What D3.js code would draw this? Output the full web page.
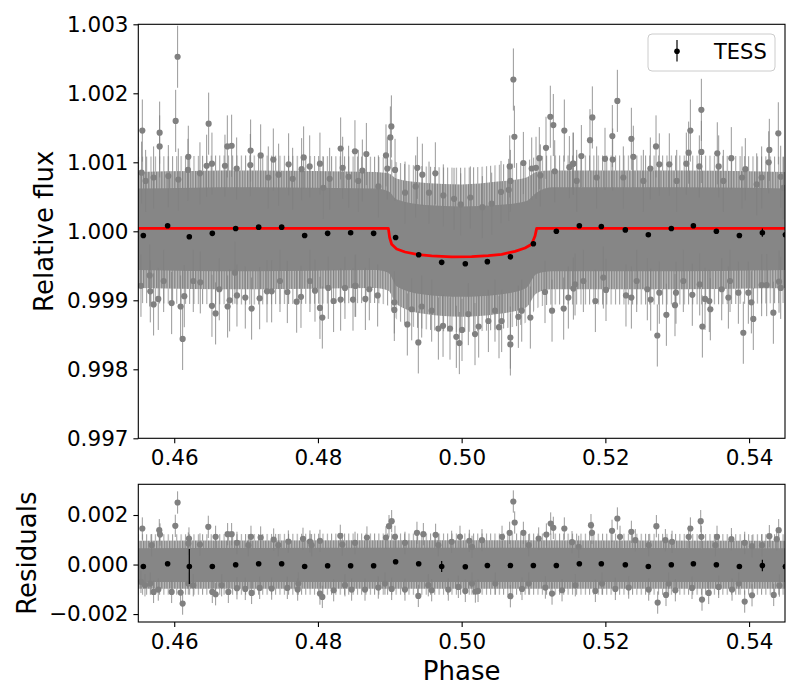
<!DOCTYPE html>
<html>
<head>
<meta charset="utf-8">
<script src="https://cdn.jsdelivr.net/npm/d3@7"></script>
<style>
body { margin: 0; background: #fff; }
</style>
</head>
<body>
<svg id="chart" width="800" height="700"></svg>
<script>
// binned TESS points (black)
var binPhase = [0.45570, 0.45908, 0.46210, 0.46530, 0.46855, 0.47175, 0.47495, 0.47815, 0.48135, 0.48455,
                0.48775, 0.49081, 0.49402, 0.49722, 0.50051, 0.50358, 0.50678, 0.50998, 0.51318, 0.51638,
                0.51944, 0.52278, 0.52598, 0.52918, 0.53225, 0.53545, 0.53865, 0.54185, 0.54505]
var binFlux = [0.99994, 1.00008, 0.99992, 0.99997, 1.00004, 1.00006, 1.00006, 0.99994, 0.99997, 0.99998,
               0.99997, 0.99991, 0.99966, 0.99955, 0.99953, 0.99956, 0.99963, 0.99982, 1.00000, 1.00008,
               1.00007, 1.00002, 0.99995, 1.00004, 1.00008, 1.00000, 0.99994, 0.99998, 0.99995]
var binFluxErr = [0.00003, 0.00003, 0.00003, 0.00003, 0.00003, 0.00003, 0.00003, 0.00003, 0.00003, 0.00003,
                  0.00003, 0.00003, 0.00003, 0.00003, 0.00003, 0.00003, 0.00003, 0.00003, 0.00003, 0.00003,
                  0.00003, 0.00003, 0.00003, 0.00003, 0.00003, 0.00003, 0.00003, 0.00006, 0.00003]
var binResid = [-0.00008, 0.00003, -0.00008, -0.00008, -0.00001, 0.00003, 0.00003, -0.00008, -0.00005, -0.00005,
                -0.00005, 0.00011, 0.00003, -0.00008, -0.00009, -0.00004, -0.00004, -0.00004, -0.00004, 0.00003,
                0.00003, -0.00001, -0.00008, -0.00001, 0.00003, -0.00001, -0.00008, -0.00004, -0.00008]
var binResidErr = [0.00003, 0.00003, 0.00071, 0.00003, 0.00003, 0.00003, 0.00003, 0.00003, 0.00003, 0.00003,
                   0.00003, 0.00003, 0.00003, 0.00022, 0.00003, 0.00003, 0.00003, 0.00003, 0.00003, 0.00003,
                   0.00003, 0.00003, 0.00003, 0.00003, 0.00003, 0.00003, 0.00003, 0.00023, 0.00003]

// transit model (red)
var modelPhase = [0.455, 0.4898, 0.48998, 0.49026, 0.49096, 0.49212, 0.49397, 0.49583, 0.49861, 0.5014,
                  0.50372, 0.50557, 0.50743, 0.50882, 0.50975, 0.51021, 0.51044, 0.545]
var modelFlux = [1.000043, 1.000043, 0.999908, 0.999812, 0.999744, 0.9997, 0.999662, 0.999643, 0.999628, 0.999633,
                 0.999647, 0.999667, 0.99971, 0.999758, 0.999812, 0.999932, 1.000043, 1.000043]

// unbinned cloud: solid core, dense "grass" of error bars, sparse outer grass (edges)
var bandPhase = [0.455, 0.470, 0.4880, 0.4898, 0.4910, 0.4950, 0.5000, 0.5050, 0.5090, 0.5104, 0.5125, 0.530, 0.545]
var bandHi = [1.00062, 1.00064, 1.00062, 1.00058, 1.00046, 1.00038, 1.00036, 1.00038, 1.00044, 1.00056, 1.00064, 1.00064, 1.00062]
var bandLo = [0.99944, 0.99942, 0.99944, 0.99940, 0.99920, 0.99908, 0.99905, 0.99908, 0.99918, 0.99938, 0.99942, 0.99942, 0.99944]
var midHi = [1.00086, 1.00088, 1.00086, 1.00084, 1.00076, 1.00070, 1.00068, 1.00072, 1.00078, 1.00086, 1.00088, 1.00088, 1.00086]
var midLo = [0.99918, 0.99916, 0.99918, 0.99914, 0.99894, 0.99880, 0.99876, 0.99880, 0.99890, 0.99910, 0.99916, 0.99916, 0.99918]
var outerHi = [1.00108, 1.00110, 1.00108, 1.00106, 1.00100, 1.00094, 1.00092, 1.00096, 1.00102, 1.00108, 1.00110, 1.00110, 1.00108]
var outerLo = [0.99896, 0.99894, 0.99896, 0.99892, 0.99872, 0.99858, 0.99854, 0.99858, 0.99868, 0.99888, 0.99894, 0.99894, 0.99896]
var resBandPhase = [0.455, 0.500, 0.545]
var resBandHi = [0.00066, 0.00068, 0.00066]
var resBandLo = [-0.00070, -0.00070, -0.00070]
var resMidHi = [0.00096, 0.00098, 0.00096]
var resMidLo = [-0.00098, -0.00098, -0.00098]
var resOuterHi = [0.00122, 0.00125, 0.00122]
var resOuterLo = [-0.00122, -0.00122, -0.00122]

// scattered unbinned points [phase, flux]
var grayErr = 0.00045
var fluxPoints = [
  [0.45556,1.00146],[0.45546,1.00085],[0.45797,1.00143],[0.45797,1.00123],[0.46020,1.00160],[0.46047,1.00253],
  [0.46196,1.00108],[0.46191,1.00089],[0.46479,1.00156],[0.46525,1.00098],[0.46739,1.00123],[0.46799,1.00124],
  [0.46869,1.00091],[0.47063,1.00117],[0.47203,1.00110],[0.47379,1.00104],[0.47453,1.00082],[0.47592,1.00097],
  [0.47648,1.00076],[0.47801,1.00107],[0.47885,1.00094],[0.48028,1.00098],[0.48163,1.00076],[0.48316,1.00120],
  [0.48344,1.00092],[0.48427,1.00079],[0.45602,1.00073],[0.45713,1.00078],[0.45918,1.00080],[0.46358,1.00084],
  [0.46706,1.00095],[0.47059,1.00096],[0.47309,1.00078],[0.47773,1.00090],[0.48075,1.00063],[0.48515,1.00116],
  [0.46057,1.00075],[0.46451,1.00095],
  [0.45537,0.99921],[0.45658,0.99936],[0.45667,0.99913],[0.45713,0.99894],[0.45778,0.99902],[0.45964,0.99896],
  [0.46089,0.99891],[0.46117,0.99844],[0.46140,0.99906],[0.46265,0.99928],[0.46363,0.99926],[0.46525,0.99892],
  [0.46576,0.99881],[0.46627,0.99916],[0.46743,0.99891],[0.46771,0.99900],[0.46873,0.99907],[0.46989,0.99904],
  [0.47077,0.99888],[0.47189,0.99903],[0.47291,0.99913],[0.47356,0.99913],[0.47574,0.99912],[0.47704,0.99898],
  [0.47764,0.99905],[0.47889,0.99928],[0.48028,0.99889],[0.48061,0.99875],[0.48218,0.99899],[0.48316,0.99901],
  [0.48488,0.99901],[0.48525,0.99921],[0.45853,0.99928],[0.46845,0.99940],[0.47472,0.99928],[0.47959,0.99914],
  [0.48144,0.99918],[0.48376,0.99918],
  [0.48674,1.00112],[0.48618,1.00088],[0.48947,1.00110],[0.48966,1.00091],[0.49008,1.00136],[0.49022,1.00152],
  [0.49073,1.00089],[0.49383,1.00092],[0.49453,1.00082],[0.49634,1.00084],[0.49360,1.00065],[0.49546,1.00056],
  [0.49745,1.00052],[0.49894,1.00047],[0.50121,1.00049],[0.49987,1.00039],[0.50288,1.00035],[0.50418,1.00040],
  [0.50548,1.00057],[0.50655,1.00060],[0.50669,1.00094],[0.50678,1.00073],[0.50720,1.00220],[0.50734,1.00137],
  [0.50859,1.00099],[0.50975,1.00091],[0.51035,1.00092],[0.51081,1.00106],[0.51095,1.00081],[0.51174,1.00121],
  [0.51234,1.00166],[0.51276,1.00154],[0.51295,1.00087],[0.51429,1.00146],[0.51499,1.00093],[0.51555,1.00098],
  [0.48562,1.00073],[0.48841,1.00065],[0.49212,1.00056],
  [0.48516,0.99921],[0.48660,0.99902],[0.48715,0.99916],[0.48831,0.99907],[0.49063,0.99886],[0.49063,0.99897],
  [0.49244,0.99865],[0.49305,0.99887],[0.49397,0.99839],[0.49444,0.99891],[0.49676,0.99859],[0.49741,0.99863],
  [0.49838,0.99859],[0.49926,0.99847],[0.49968,0.99838],[0.50005,0.99857],[0.50186,0.99851],[0.50237,0.99862],
  [0.50372,0.99870],[0.50520,0.99861],[0.50557,0.99870],[0.50678,0.99846],[0.50678,0.99836],[0.50789,0.99876],
  [0.50836,0.99885],[0.50956,0.99875],[0.51160,0.99912],[0.51258,0.99885],[0.51420,0.99888],[0.51485,0.99904],
  [0.51555,0.99917],[0.49583,0.99885],[0.50093,0.99880],[0.50464,0.99885],
  [0.51550,1.00098],[0.51666,1.00109],[0.51786,1.00132],[0.51819,1.00165],[0.51995,1.00105],[0.52097,1.00138],
  [0.52102,1.00104],[0.52167,1.00189],[0.52362,1.00134],[0.52389,1.00108],[0.52626,1.00091],[0.52705,1.00123],
  [0.52751,1.00097],[0.52890,1.00097],[0.53127,1.00098],[0.53159,1.00114],[0.53183,1.00146],[0.53308,1.00094],
  [0.53336,1.00176],[0.53336,1.00115],[0.53558,1.00113],[0.53577,1.00094],[0.53753,1.00106],[0.53902,1.00078],
  [0.53948,1.00090],[0.54175,1.00078],[0.54273,1.00100],[0.54282,1.00118],[0.54407,1.00142],[0.54440,1.00079],
  [0.51601,1.00073],[0.51879,1.00078],[0.52250,1.00078],[0.52529,1.00073],[0.52993,1.00073],[0.53642,1.00073],
  [0.54106,1.00068],[0.54477,1.00063],
  [0.51578,0.99923],[0.51694,0.99928],[0.51861,0.99899],[0.52009,0.99915],[0.52287,0.99907],[0.52362,0.99904],
  [0.52584,0.99916],[0.52631,0.99901],[0.52723,0.99849],[0.52751,0.99911],[0.52849,0.99879],[0.52969,0.99893],
  [0.52983,0.99911],[0.53210,0.99908],[0.53313,0.99923],[0.53350,0.99862],[0.53387,0.99902],[0.53447,0.99899],
  [0.53461,0.99887],[0.53619,0.99916],[0.53712,0.99904],[0.53851,0.99911],[0.53920,0.99853],[0.53990,0.99911],
  [0.54032,0.99897],[0.54059,0.99873],[0.54175,0.99922],[0.54245,0.99922],[0.54338,0.99882],[0.54417,0.99927],
  [0.54440,0.99918],[0.51972,0.99933],[0.52436,0.99928],[0.53085,0.99928],[0.53735,0.99928]
]

// scattered residuals [phase, residual]
var residPoints = [
  [0.45556,0.001455],[0.45792,0.001387],[0.45802,0.001212],[0.46015,0.001562],[0.46047,0.002505],[0.46196,0.000848],
  [0.46205,0.001051],[0.46474,0.001522],[0.46576,0.001118],[0.46743,0.001226],[0.46799,0.001226],[0.46873,0.000875],
  [0.47068,0.001118],[0.47203,0.001091],[0.47384,0.001010],[0.47588,0.000929],[0.47792,0.001037],[0.47889,0.000929],
  [0.48028,0.000956],[0.48311,0.001158],[0.48339,0.000808],[0.48682,0.001091],[0.48947,0.001091],[0.48989,0.001549],
  [0.49026,0.001751],[0.49072,0.001118],[0.49378,0.001279],[0.49467,0.001226],[0.49638,0.001199],[0.49861,0.000916],
  [0.49977,0.001118],[0.45686,0.000781],[0.46358,0.000808],[0.47031,0.000781],[0.47449,0.000781],[0.47912,0.000781],
  [0.48516,0.000875],[0.49211,0.000875],[0.49675,0.000781],
  [0.45537,-0.000700],[0.45667,-0.000768],[0.45713,-0.001104],[0.45778,-0.001010],[0.45964,-0.001104],[0.46089,-0.001131],
  [0.46117,-0.001576],[0.46265,-0.000835],[0.46530,-0.001104],[0.46576,-0.001199],[0.46753,-0.001104],[0.46873,-0.000956],
  [0.46989,-0.000983],[0.47077,-0.001145],[0.47189,-0.000943],[0.47356,-0.000970],[0.47574,-0.000943],[0.47718,-0.001010],
  [0.48028,-0.001172],[0.48061,-0.001307],[0.48219,-0.001037],[0.48469,-0.001010],[0.48655,-0.001010],[0.48840,-0.000929],
  [0.49026,-0.000983],[0.49211,-0.001010],[0.49397,-0.001266],[0.49583,-0.001037],[0.49814,-0.001010],[0.49954,-0.000902],
  [0.45593,-0.000835],[0.46196,-0.000768],[0.46660,-0.000835],[0.47727,-0.000768],[0.48376,-0.000835],[0.48933,-0.000768],
  [0.49536,-0.000835],
  [0.50107,0.000956],[0.50283,0.000983],[0.50562,0.001118],[0.50668,0.001279],[0.50719,0.002545],[0.50738,0.001697],
  [0.50859,0.001279],[0.51072,0.001051],[0.51179,0.001212],[0.51239,0.001657],[0.51276,0.001481],[0.51429,0.001455],
  [0.51536,0.000902],[0.51800,0.001589],[0.51814,0.001279],[0.52093,0.001360],[0.52167,0.001859],[0.52204,0.001118],
  [0.52362,0.001320],[0.52417,0.000983],[0.52710,0.001549],[0.52835,0.000983],[0.52928,0.000916],[0.53160,0.001118],
  [0.53183,0.001455],[0.53327,0.001751],[0.53336,0.001118],[0.53554,0.001118],[0.53754,0.001024],[0.53939,0.000875],
  [0.54180,0.000781],[0.54282,0.001145],[0.54385,0.001024],[0.54412,0.001387],[0.50144,0.000714],[0.50933,0.000781],
  [0.51629,0.000714],[0.52603,0.000781],[0.53531,0.000781],[0.54041,0.000741],
  [0.50051,-0.001064],[0.50191,-0.001091],[0.50228,-0.001064],[0.50469,-0.000768],[0.50678,-0.001279],[0.50840,-0.000983],
  [0.51165,-0.000929],[0.51258,-0.001172],[0.51397,-0.001037],[0.51582,-0.000835],[0.51861,-0.001064],[0.52139,-0.000983],
  [0.52325,-0.000929],[0.52603,-0.001010],[0.52728,-0.001535],[0.52844,-0.001226],[0.52974,-0.001037],[0.53206,-0.000943],
  [0.53345,-0.001414],[0.53438,-0.001145],[0.53577,-0.000902],[0.53763,-0.001010],[0.53939,-0.001495],[0.54041,-0.001239],
  [0.54343,-0.001226],[0.54422,-0.000848],[0.50144,-0.000768],[0.50933,-0.000768],[0.51954,-0.000768],[0.52881,-0.000768],
  [0.53856,-0.000768]
]

var phaseTicks = [0.46, 0.48, 0.50, 0.52, 0.54]
var fluxTicks = [0.997, 0.998, 0.999, 1.000, 1.001, 1.002, 1.003]
var residTicks = [-0.002, 0.000, 0.002]

var FONT = '"DejaVu Sans", "Liberation Sans", sans-serif'
var svg = d3.select('#chart')

var left = 138.3, right = 785
var top1 = 24.3, bottom1 = 438.3
var top2 = 484.3, bottom2 = 622

var xScale = d3.scaleLinear().domain([0.455, 0.545]).range([left, right])
var yFlux = d3.scaleLinear().domain([0.997, 1.003]).range([bottom1, top1])
var yResid = d3.scaleLinear().domain([-0.00232, 0.00324]).range([bottom2, top2])

var defs = svg.append('defs')
defs.append('clipPath').attr('id', 'clipTop')
  .append('rect').attr('x', left).attr('y', top1).attr('width', right - left).attr('height', bottom1 - top1)
defs.append('clipPath').attr('id', 'clipBot')
  .append('rect').attr('x', left).attr('y', top2).attr('width', right - left).attr('height', bottom2 - top2)

// thin vertical strokes, stand-in for the overlapping error bars
let grass = defs.append('pattern').attr('id', 'grass')
  .attr('patternUnits', 'userSpaceOnUse').attr('width', 2.6).attr('height', 10)
grass.append('rect').attr('width', 2.6).attr('height', 10).attr('fill', '#bdbdbd')
grass.append('rect').attr('width', 1.3).attr('height', 10).attr('fill', '#858585')
let sparse = defs.append('pattern').attr('id', 'sparse')
  .attr('patternUnits', 'userSpaceOnUse').attr('width', 4.3).attr('height', 10)
sparse.append('rect').attr('width', 1).attr('height', 10).attr('fill', '#9a9a9a')

function band(yScale, ph, lo, hi) {
  return d3.area().curve(d3.curveMonotoneX)
    .x(function(d, i) { return xScale(ph[i]) })
    .y0(function(d, i) { return yScale(lo[i]) })
    .y1(function(d, i) { return yScale(hi[i]) })(ph)
}

function drawPanel(clipId, yScale, ph, bands, points) {
  let g = svg.append('g').attr('clip-path', 'url(#' + clipId + ')')

  // sparse outer grass, dense grass, then solid core
  g.append('path').attr('fill', 'url(#sparse)').attr('d', band(yScale, ph, bands[0], bands[1]))
  g.append('path').attr('fill', 'url(#grass)').attr('d', band(yScale, ph, bands[2], bands[3]))
  g.append('path').attr('fill', '#868686').attr('d', band(yScale, ph, bands[4], bands[5]))

  // scattered points with error bars
  g.selectAll('.gerr').data(points).enter().append('line')
    .attr('x1', d => xScale(d[0])).attr('x2', d => xScale(d[0]))
    .attr('y1', d => yScale(d[1] - grayErr)).attr('y2', d => yScale(d[1] + grayErr))
    .attr('stroke', '#808080').attr('stroke-opacity', 0.8).attr('stroke-width', 1)
  g.selectAll('.gdot').data(points).enter().append('circle')
    .attr('cx', d => xScale(d[0])).attr('cy', d => yScale(d[1]))
    .attr('r', 3.1).attr('fill', '#808080')

  return g
}

let gTop = drawPanel('clipTop', yFlux, bandPhase,
  [outerLo, outerHi, midLo, midHi, bandLo, bandHi], fluxPoints)

// model
gTop.append('path')
  .datum(modelPhase.map(function(p, i) { return [p, modelFlux[i]] }))
  .attr('fill', 'none').attr('stroke', 'red').attr('stroke-width', 2.8)
  .attr('stroke-linejoin', 'round')
  .attr('d', d3.line().x(d => xScale(d[0])).y(d => yFlux(d[1])))

let gBot = drawPanel('clipBot', yResid, resBandPhase,
  [resOuterLo, resOuterHi, resMidLo, resMidHi, resBandLo, resBandHi], residPoints)

function drawBins(g, yScale, vals, errs) {
  g.selectAll('.berr').data(binPhase).enter().append('line')
    .attr('x1', d => xScale(d)).attr('x2', d => xScale(d))
    .attr('y1', (d, i) => yScale(vals[i] - errs[i])).attr('y2', (d, i) => yScale(vals[i] + errs[i]))
    .attr('stroke', 'black').attr('stroke-width', 1.2)
  g.selectAll('.bdot').data(binPhase).enter().append('circle')
    .attr('cx', d => xScale(d)).attr('cy', (d, i) => yScale(vals[i]))
    .attr('r', 2.8).attr('fill', 'black')
}
drawBins(gTop, yFlux, binFlux, binFluxErr)
drawBins(gBot, yResid, binResid, binResidErr)

// axes
function styleAxis(g) {
  g.select('.domain').remove()
  g.selectAll('.tick line').attr('stroke', 'black').attr('stroke-width', 1.1)
  g.selectAll('.tick text').attr('fill', 'black').attr('font-size', '21.5px').attr('font-family', FONT)
}
var fmt3 = function(d) { return d3.format('.3f')(d).replace('-', '\u2212') }
var fmt2 = d3.format('.2f')

svg.append('g').attr('transform', 'translate(' + left + ',0)')
  .call(d3.axisLeft(yFlux).tickValues(fluxTicks).tickFormat(fmt3).tickSize(4.9).tickPadding(4.9))
  .call(styleAxis)
svg.append('g').attr('transform', 'translate(0,' + bottom1 + ')')
  .call(d3.axisBottom(xScale).tickValues(phaseTicks).tickFormat(fmt2).tickSize(4.9).tickPadding(7))
  .call(styleAxis)
svg.append('g').attr('transform', 'translate(' + left + ',0)')
  .call(d3.axisLeft(yResid).tickValues(residTicks).tickFormat(fmt3).tickSize(4.9).tickPadding(4.9))
  .call(styleAxis)
svg.append('g').attr('transform', 'translate(0,' + bottom2 + ')')
  .call(d3.axisBottom(xScale).tickValues(phaseTicks).tickFormat(fmt2).tickSize(4.9).tickPadding(7))
  .call(styleAxis)

// frames
svg.append('rect').attr('x', left).attr('y', top1).attr('width', right - left).attr('height', bottom1 - top1)
  .attr('fill', 'none').attr('stroke', 'black').attr('stroke-width', 1.1)
svg.append('rect').attr('x', left).attr('y', top2).attr('width', right - left).attr('height', bottom2 - top2)
  .attr('fill', 'none').attr('stroke', 'black').attr('stroke-width', 1.1)

// labels
svg.append('text')
  .attr('transform', 'translate(53,' + ((top1 + bottom1) / 2) + ') rotate(-90)')
  .attr('text-anchor', 'middle').attr('font-family', FONT).attr('font-size', '26px')
  .text('Relative flux')
svg.append('text')
  .attr('transform', 'translate(36,' + ((top2 + bottom2) / 2) + ') rotate(-90)')
  .attr('text-anchor', 'middle').attr('font-family', FONT).attr('font-size', '26px')
  .text('Residuals')
svg.append('text')
  .attr('x', (left + right) / 2).attr('y', 680)
  .attr('text-anchor', 'middle').attr('font-family', FONT).attr('font-size', '26px')
  .text('Phase')

// legend
let legend = svg.append('g')
legend.append('rect')
  .attr('x', 648).attr('y', 34).attr('width', 127).attr('height', 37).attr('rx', 4)
  .attr('fill', 'white').attr('fill-opacity', 0.8).attr('stroke', '#cccccc').attr('stroke-width', 1)
legend.append('line')
  .attr('x1', 677).attr('x2', 677).attr('y1', 40).attr('y2', 61.5)
  .attr('stroke', 'black').attr('stroke-width', 1.2)
legend.append('circle').attr('cx', 677).attr('cy', 51.3).attr('r', 2.8).attr('fill', 'black')
legend.append('text')
  .attr('x', 714).attr('y', 59).attr('font-family', FONT).attr('font-size', '21px')
  .text('TESS')
</script>
</body>
</html>
